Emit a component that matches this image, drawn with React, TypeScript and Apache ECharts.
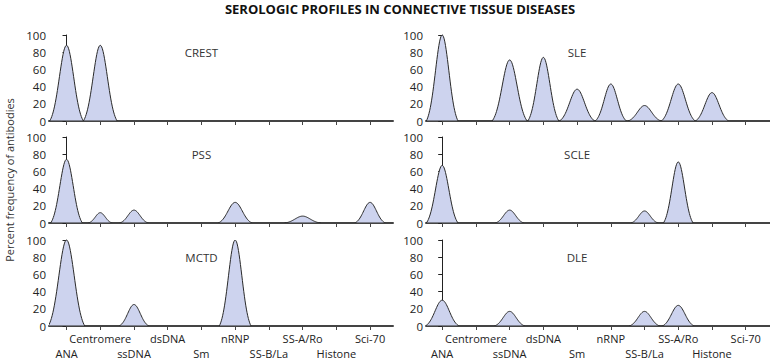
import React, { useEffect, useRef } from "react";
import * as echarts from "echarts";

const categories = ["ANA", "Centromere", "ssDNA", "dsDNA", "Sm", "nRNP", "SS-B/La", "SS-A/Ro", "Histone", "Sci-70"];
const tickValues = [0, 1, 2, 3, 4, 5, 6, 7, 8, 9];
const upperLabelValues = [1, 3, 5, 7, 9];
const lowerLabelValues = [0, 2, 4, 6, 8];
const yTicks = [0, 20, 40, 60, 80, 100];

const panelNames = ["CREST", "SLE", "PSS", "SCLE", "MCTD", "DLE"];

const crestValues = [88, 88, 0, 0, 0, 0, 0, 0, 0, 0];
const crestWidths = [0.5, 0.5, 0, 0, 0, 0, 0, 0, 0, 0];
const sleValues = [100, 0, 71, 74, 37, 43, 18, 43, 33, 0];
const sleWidths = [0.47, 0, 0.52, 0.46, 0.52, 0.46, 0.49, 0.5, 0.49, 0];
const pssValues = [74, 12, 15, 0, 0, 24, 0, 8, 0, 24];
const pssWidths = [0.47, 0.35, 0.42, 0, 0, 0.5, 0, 0.53, 0, 0.45];
const scleValues = [67, 0, 15, 0, 0, 0, 14, 71, 0, 0];
const scleWidths = [0.47, 0, 0.42, 0, 0, 0, 0.4, 0.44, 0, 0];
const mctdValues = [100, 0, 25, 0, 0, 100, 0, 0, 0, 0];
const mctdWidths = [0.54, 0, 0.44, 0, 0, 0.47, 0, 0, 0, 0];
const dleValues = [30, 0, 17, 0, 0, 0, 17, 24, 0, 0];
const dleWidths = [0.5, 0, 0.45, 0, 0, 0, 0.45, 0.47, 0, 0];

const panelValues = [crestValues, sleValues, pssValues, scleValues, mctdValues, dleValues];
const panelWidths = [crestWidths, sleWidths, pssWidths, scleWidths, mctdWidths, dleWidths];

const FONT = "'Open Sans', 'Noto Sans', sans-serif";

export default function App() {
  const ref = useRef<HTMLDivElement>(null);
  useEffect(() => {
    if (!ref.current) return;
    const chart = echarts.init(ref.current, null, { renderer: "svg" });

    const gridLefts = [49, 426];
    const gridTops = [35, 137, 240];
    const xMins = [-0.52, -0.48];

    const grids: any[] = [];
    const xAxes: any[] = [];
    const yAxes: any[] = [];
    const series: any[] = [];

    const labelStyle = {
      fontFamily: FONT,
      fontSize: 11,
      color: "#222",
      hideOverlap: false,
      formatter: (v: number) => categories[Math.round(v)] ?? "",
    };

    for (let p = 0; p < 6; p++) {
      const col = p % 2;
      const row = Math.floor(p / 2);
      grids.push({ left: gridLefts[col], top: gridTops[row], width: 344, height: 86 });
      const isBottom = row === 2;
      const xIndex = xAxes.length;
      xAxes.push({
        type: "value",
        gridIndex: p,
        position: "bottom",
        min: xMins[col],
        max: xMins[col] + 10.2,
        splitLine: { show: false },
        axisLine: { show: true, onZero: false, lineStyle: { color: "#444", width: 2 } },
        axisTick: { show: true, customValues: tickValues, length: 4, lineStyle: { color: "#444", width: 1 } },
        axisLabel: { ...labelStyle, show: isBottom, customValues: upperLabelValues, margin: 7 },
      });
      if (isBottom) {
        xAxes.push({
          type: "value",
          gridIndex: p,
          position: "bottom",
          offset: 0,
          min: xMins[col],
          max: xMins[col] + 10.2,
          splitLine: { show: false },
          axisLine: { show: false },
          axisTick: { show: false },
          axisLabel: { ...labelStyle, show: true, customValues: lowerLabelValues, margin: 22 },
        });
      }
      yAxes.push({
        type: "value",
        gridIndex: p,
        min: 0,
        max: 100,
        interval: 20,
        splitLine: { show: false },
        axisLine: { show: true, lineStyle: { color: "#222", width: 1 } },
        axisTick: { show: true, length: 4, lineStyle: { color: "#222" } },
        axisLabel: { fontFamily: FONT, fontSize: 11.5, color: "#222", margin: 3, customValues: yTicks },
      });

      const data: number[][] = [];
      panelValues[p].forEach((v, i) => {
        if (v > 0) data.push([i, v, panelWidths[p][i]]);
      });

      series.push({
        type: "custom",
        xAxisIndex: xIndex,
        yAxisIndex: p,
        encode: { x: 0, y: 1 },
        clip: true,
        data,
        renderItem: (params: any, api: any) => {
          const c = api.value(0);
          const h = api.value(1);
          const w = api.value(2);
          const k = 2.8;
          const e = Math.exp(-k);
          const N = 48;
          const pts: number[][] = [];
          for (let j = 0; j <= N; j++) {
            const t = -1 + (2 * j) / N;
            const y = (h * (Math.exp(-k * t * t) - e)) / (1 - e);
            pts.push(api.coord([c + t * w, y]));
          }
          return {
            type: "polygon",
            shape: { points: pts },
            style: { fill: "#cdd3ee", stroke: "#2a2a2a", lineWidth: 1 },
          };
        },
      });

      series.push({
        type: "custom",
        xAxisIndex: xIndex,
        yAxisIndex: p,
        encode: { x: 0, y: 1 },
        data: [[4, 80]],
        renderItem: (params: any, api: any) => {
          const pt = api.coord([api.value(0), api.value(1)]);
          return {
            type: "text",
            x: pt[0],
            y: pt[1],
            style: {
              text: panelNames[p],
              textAlign: "center",
              textVerticalAlign: "middle",
              fontFamily: FONT,
              fontSize: 11.5,
              fill: "#333",
            },
          };
        },
      });
    }

    chart.setOption({
      animation: false,
      backgroundColor: "#fff",
      grid: grids,
      xAxis: xAxes,
      yAxis: yAxes,
      series,
      graphic: [
        {
          type: "text",
          x: 400,
          y: 9,
          style: {
            text: "SEROLOGIC PROFILES IN CONNECTIVE TISSUE DISEASES",
            textAlign: "center",
            textVerticalAlign: "middle",
            fontFamily: FONT,
            fontWeight: "bold",
            fontSize: 13,
            fill: "#111",
          },
        },
        {
          type: "text",
          x: 9,
          y: 180,
          rotation: Math.PI / 2,
          style: {
            text: "Percent frequency of antibodies",
            textAlign: "center",
            textVerticalAlign: "middle",
            fontFamily: FONT,
            fontSize: 11,
            fill: "#333",
          },
        },
      ],
    });
    return () => chart.dispose();
  }, []);
  return (
    <div
      ref={ref}
      style={{ position: "absolute", left: 0, top: 0, width: 770, height: 361, background: "#fff" }}
    />
  );
}
